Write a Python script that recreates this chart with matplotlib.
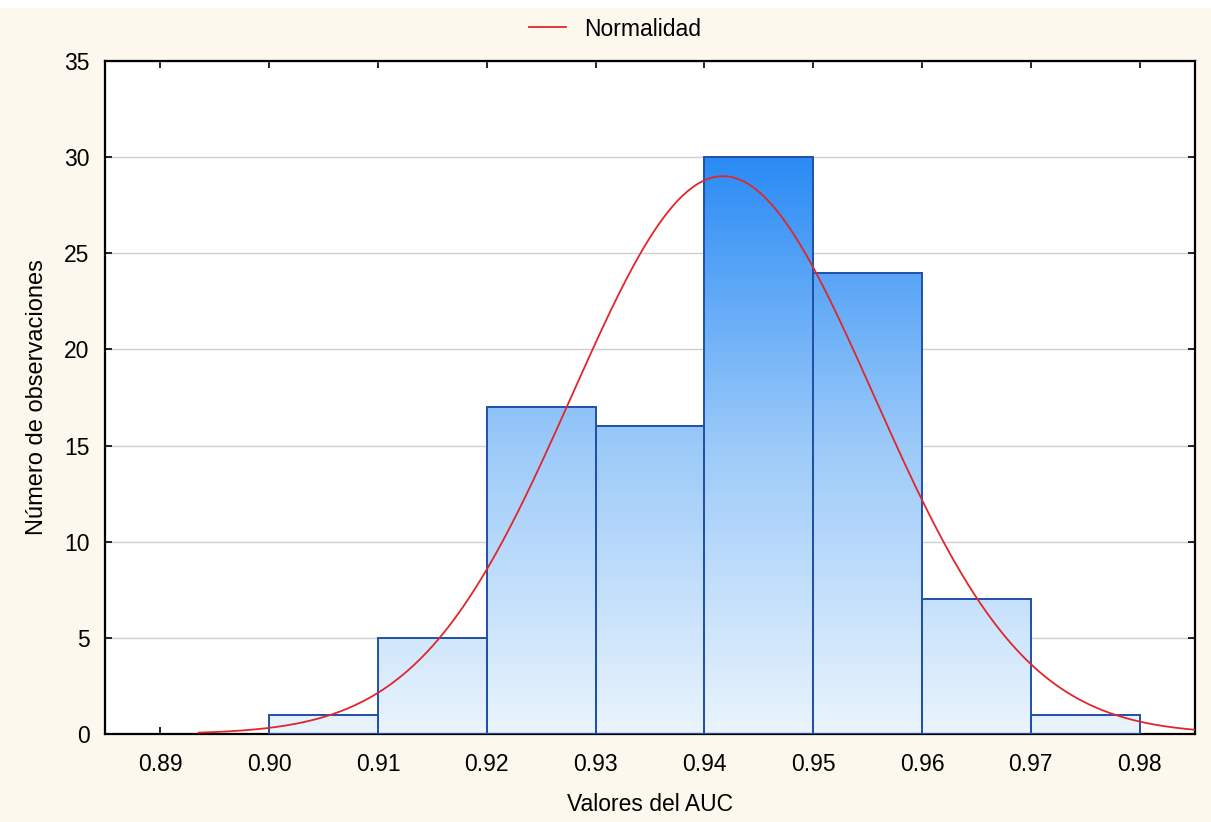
import numpy as np
import matplotlib.pyplot as plt
from matplotlib.patches import Rectangle
from matplotlib.colors import LinearSegmentedColormap

# histogram bins (AUC values) and counts
bin_edges = [0.90, 0.91, 0.92, 0.93, 0.94, 0.95, 0.96, 0.97, 0.98]
counts = [1, 5, 17, 16, 30, 24, 7, 1]

# fitted normal curve parameters
auc_mean = 0.9417
auc_sd = 0.01389
curve_start = 0.8935

x_ticks = [0.89, 0.90, 0.91, 0.92, 0.93, 0.94, 0.95, 0.96, 0.97, 0.98]
y_ticks = [0, 5, 10, 15, 20, 25, 30, 35]

plt.rcParams['font.family'] = ['Liberation Sans', 'DejaVu Sans']
fs = 16.5

bg = '#fdf8ee'
fig = plt.figure(figsize=(12.11, 8.22), dpi=100, facecolor=bg)
fig.patches.append(Rectangle((0, 1 - 8 / 822), 1, 8 / 822, transform=fig.transFigure,
                             facecolor='white', edgecolor='none'))
ax = fig.add_axes([105 / 1211, 1 - 734 / 822, 1090 / 1211, 673 / 822])
ax.set_facecolor('white')

xmin, xmax = 0.8849, 0.9851

# gradient used to fill the bars (light at 0, deep blue at 30)
grad = np.linspace(0, 1, 256).reshape(-1, 1)
cmap = LinearSegmentedColormap.from_list('blu', ['#eaf4fd', '#9ccaf9', '#2a8bf5'])

widths = np.diff(bin_edges)
for left, w, c in zip(bin_edges[:-1], widths, counts):
    im = ax.imshow(grad, extent=[xmin, xmax, 0, 30], origin='lower', aspect='auto',
                   cmap=cmap, zorder=2)
    rect = Rectangle((left, 0), w, c, facecolor='none', edgecolor='#2050a8',
                     linewidth=1.4, zorder=3)
    ax.add_patch(rect)
    im.set_clip_path(rect)
ax.set_xlim(xmin, xmax)
ax.set_ylim(0, 35)

# normal curve scaled to counts
n = sum(counts)
bw = widths[0]
xs = np.linspace(curve_start, xmax, 400)
ys = n * bw / (auc_sd * np.sqrt(2 * np.pi)) * np.exp(-0.5 * ((xs - auc_mean) / auc_sd) ** 2)
ax.plot(xs, ys, color='#e0262b', linewidth=1.3, zorder=4, label='Normalidad')

ax.set_xticks(x_ticks)
ax.set_xticklabels(['%.2f' % v for v in x_ticks])
ax.set_yticks(y_ticks)
ax.yaxis.grid(True, color='#d0d0d0', linewidth=1, zorder=0)
ax.set_axisbelow(True)
ax.tick_params(axis='both', direction='in', length=5, width=1.2, labelsize=fs,
               colors='black', top=True, right=True)
ax.tick_params(axis='x', pad=14)
ax.tick_params(axis='y', pad=11)
for s in ax.spines.values():
    s.set_linewidth(1.6)
    s.set_color('black')

ax.set_xlabel('Valores del AUC', fontsize=fs, labelpad=12)
ax.set_ylabel('Número de observaciones', fontsize=fs + 0.5, labelpad=12)

fig.legend(loc='center', bbox_to_anchor=(615 / 1211, 1 - 29 / 822), frameon=False,
           fontsize=fs, handlelength=1.6, handletextpad=0.8)

fig.savefig('out.png', dpi=100, facecolor=bg)
